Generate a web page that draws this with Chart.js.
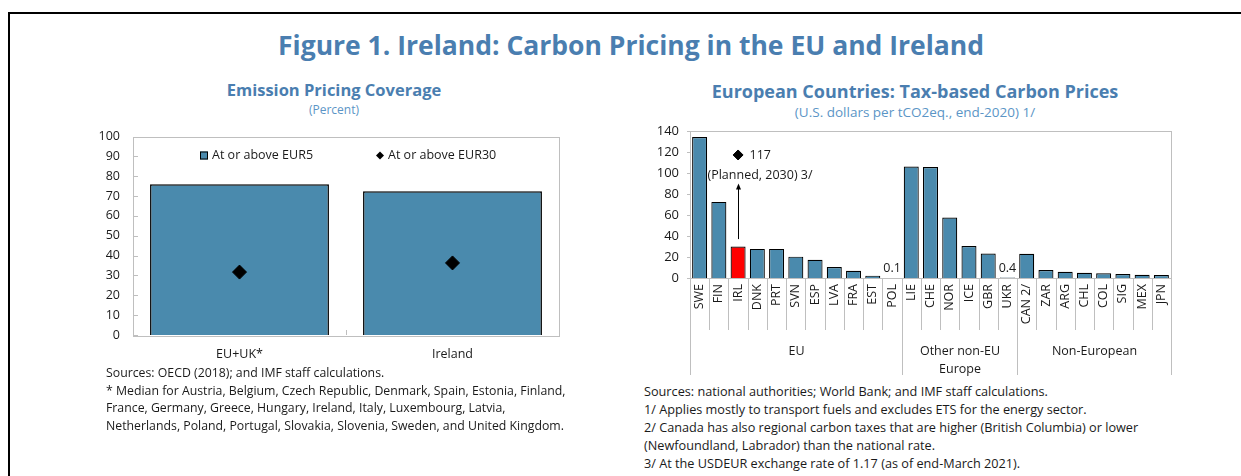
<!DOCTYPE html>
<html>
<head>
<meta charset="utf-8">
<script src="https://cdn.jsdelivr.net/npm/chart.js@4.4.1/dist/chart.umd.min.js"></script>
<style>
  body { margin: 0; width: 1241px; height: 476px; overflow: hidden; background: #fff; position: relative;
         font-family: "Open Sans", sans-serif; color: #1a1a1a; }
  .frame { position: absolute; left: 8px; top: 12px; width: 1300px; height: 520px; border: 2px solid #000; box-sizing: border-box; }
  .t { position: absolute; white-space: nowrap; line-height: 1; }
  .c { transform: translate(-50%, -50%); }
  .m { transform: translateY(-50%); }
  .h1 { font-size: 26.5px; font-weight: 700; color: #4a7eb0; }
  .h2 { font-size: 16.5px; font-weight: 700; color: #4a7eb0; }
  .h3 { font-size: 12px; color: #5b95c6; }
  .note { font-size: 12.3px; color: #1a1a1a; }
  .note.r { font-size: 12.7px; }
  canvas { position: absolute; }
</style>
</head>
<body>
<div class="frame"></div>

<div class="t c h1" style="left:631px; top:45px;">Figure 1. Ireland: Carbon Pricing in the EU and Ireland</div>

<div class="t c h2" style="left:334px; top:90px;">Emission Pricing Coverage</div>
<div class="t c h3" style="left:334px; top:110px;">(Percent)</div>

<div class="t c h2" style="left:915px; top:91px; font-size:18px;">European Countries: Tax-based Carbon Prices</div>
<div class="t c h3" style="left:915px; top:113px; font-size:13.5px;">(U.S. dollars per tCO2eq., end-2020) 1/</div>

<div style="position:absolute; left:80px; top:116px; width:520px; height:260px;"><canvas id="coverage"></canvas></div>
<div style="position:absolute; left:640px; top:112px; width:545px; height:268px;"><canvas id="prices"></canvas></div>

<div class="t m note" style="left:106px; top:373px;">Sources: OECD (2018); and IMF staff calculations.</div>
<div class="t m note" style="left:106px; top:391px;">* Median for Austria, Belgium, Czech Republic, Denmark, Spain, Estonia, Finland,</div>
<div class="t m note" style="left:106px; top:408px;">France, Germany, Greece, Hungary, Ireland, Italy, Luxembourg, Latvia,</div>
<div class="t m note" style="left:106px; top:426px;">Netherlands, Poland, Portugal, Slovakia, Slovenia, Sweden, and United Kingdom.</div>

<div class="t m note r" style="left:644px; top:391px;">Sources: national authorities; World Bank; and IMF staff calculations.</div>
<div class="t m note r" style="left:644px; top:409px;">1/ Applies mostly to transport fuels and excludes ETS for the energy sector.</div>
<div class="t m note r" style="left:644px; top:427px;">2/ Canada has also regional carbon taxes that are higher (British Columbia) or lower</div>
<div class="t m note r" style="left:644px; top:445px;">(Newfoundland, Labrador) than the national rate.</div>
<div class="t m note r" style="left:644px; top:463px;">3/ At the USDEUR exchange rate of 1.17 (as of end-March 2021).</div>

<script>
// left panel data
const coverageCats = ['EU+UK*', 'Ireland'];
const eur5 = [75.9, 72.4];
const eur30 = [31.7, 36.3];

// right panel data
const countries = ['SWE', 'FIN', 'IRL', 'DNK', 'PRT', 'SVN', 'ESP', 'LVA', 'FRA', 'EST', 'POL',
                   'LIE', 'CHE', 'NOR', 'ICE', 'GBR', 'UKR',
                   'CAN 2/', 'ZAR', 'ARG', 'CHL', 'COL', 'SIG', 'MEX', 'JPN'];
const carbonPrice = [134, 72.4, 30, 27.7, 27.7, 20.3, 17.3, 10.4, 6.9, 2.2, 0.1,
                     106, 105.5, 57.6, 30.5, 23.3, 0.4,
                     23, 7.5, 5.9, 5, 4.4, 3.7, 3.1, 2.8];
const groupNames = [['EU'], ['Other non-EU', 'Europe'], ['Non-European']];
const groupSizes = [11, 6, 8];
const plannedCountry = 'IRL';
const plannedValue = 117;
const plannedNote = '(Planned, 2030) 3/';

const BLUE = '#4a8aad';
const RED = '#ff0000';
const GREY = '#bfbfbf';
const FONT = '"Open Sans", sans-serif';

Chart.defaults.font.family = FONT;
Chart.defaults.color = '#1a1a1a';

function line(ctx, x1, y1, x2, y2) {
  ctx.beginPath(); ctx.moveTo(x1, y1); ctx.lineTo(x2, y2); ctx.stroke();
}

// border, inner ticks and legend for the left panel
const coverageDeco = {
  id: 'coverageDeco',
  afterDraw(chart) {
    const { ctx, chartArea: a, scales: { x, y } } = chart;
    ctx.save();
    ctx.strokeStyle = GREY;
    ctx.lineWidth = 1;
    ctx.strokeRect(Math.round(a.left) + 0.5, Math.round(a.top) + 0.5, Math.round(a.right - a.left), Math.round(a.bottom - a.top));
    y.ticks.forEach((t, i) => {
      const py = Math.round(y.getPixelForTick(i)) + 0.5;
      line(ctx, a.left, py, a.left + 5, py);
    });
    const mid = Math.round((x.getPixelForValue(0) + x.getPixelForValue(1)) / 2) + 0.5;
    line(ctx, mid, a.bottom, mid, a.bottom - 5);

    // legend
    const ds = chart.data.datasets;
    const ly = a.top + 19;
    ctx.font = '12.5px ' + FONT;
    ctx.textBaseline = 'middle';
    ctx.fillStyle = ds[0].backgroundColor;
    ctx.fillRect(a.left + 67, ly - 4, 8, 8);
    ctx.strokeStyle = '#000';
    ctx.strokeRect(a.left + 67.5, ly - 3.5, 7, 7);
    ctx.fillStyle = '#1a1a1a';
    ctx.fillText(ds[0].label, a.left + 79, ly);

    const dx = a.left + 247;
    ctx.fillStyle = '#000';
    ctx.beginPath();
    ctx.moveTo(dx, ly - 4); ctx.lineTo(dx + 4, ly); ctx.lineTo(dx, ly + 4); ctx.lineTo(dx - 4, ly);
    ctx.closePath(); ctx.fill();
    ctx.fillStyle = '#1a1a1a';
    ctx.fillText(ds[1].label, a.left + 255, ly);
    ctx.restore();
  }
};

new Chart(document.getElementById('coverage'), {
  data: {
    labels: coverageCats,
    datasets: [
      { type: 'bar', label: 'At or above EUR5', data: eur5, backgroundColor: BLUE,
        borderColor: '#000', borderWidth: 1.5, barPercentage: 0.84, categoryPercentage: 1, order: 2 },
      { type: 'line', label: 'At or above EUR30', data: eur30, showLine: false,
        pointStyle: 'rectRot', pointRadius: 7, pointBackgroundColor: '#000', pointBorderColor: '#000', order: 1 }
    ]
  },
  options: {
    responsive: true, maintainAspectRatio: false, animation: false,
    layout: { padding: { top: 16, right: 41, bottom: 11, left: 0 } },
    plugins: { legend: { display: false }, tooltip: { enabled: false } },
    scales: {
      x: {
        grid: { display: false, drawTicks: false }, border: { display: false },
        ticks: { font: { size: 12.5 }, padding: 12, color: '#1a1a1a' },
        afterFit(s) { s.height = 30; }
      },
      y: {
        min: 0, max: 100,
        grid: { display: false, drawTicks: false }, border: { display: false },
        ticks: { stepSize: 10, font: { size: 12.5 }, padding: 13, color: '#1a1a1a' },
        afterFit(s) { s.width = 53; }
      }
    }
  },
  plugins: [coverageDeco]
});

// border, category separators, group labels and notes for the right panel
const pricesDeco = {
  id: 'pricesDeco',
  afterDraw(chart) {
    const { ctx, chartArea: a, scales: { x, y } } = chart;
    const data = chart.data.datasets[0].data;
    ctx.save();
    ctx.strokeStyle = GREY;
    ctx.lineWidth = 1;
    ctx.strokeRect(Math.round(a.left) + 0.5, Math.round(a.top) + 0.5, Math.round(a.right - a.left), Math.round(a.bottom - a.top));
    y.ticks.forEach((t, i) => {
      const py = Math.round(y.getPixelForTick(i)) + 0.5;
      line(ctx, a.left - 3, py, a.left, py);
    });

    const step = x.getPixelForValue(1) - x.getPixelForValue(0);
    const edge = i => Math.round(x.getPixelForValue(i) - step / 2) + 0.5;
    for (let i = 0; i <= countries.length; i++) {
      line(ctx, edge(i), a.bottom, edge(i), a.bottom + 52);
    }
    let start = 0;
    ctx.font = '12.5px ' + FONT;
    ctx.textAlign = 'center';
    ctx.textBaseline = 'middle';
    groupSizes.forEach((n, g) => {
      const end = start + n;
      ctx.strokeStyle = GREY;
      line(ctx, edge(start), a.bottom, edge(start), a.bottom + 97);
      line(ctx, edge(end), a.bottom, edge(end), a.bottom + 97);
      const cx = (edge(start) + edge(end)) / 2;
      ctx.fillStyle = '#1a1a1a';
      groupNames[g].forEach((txt, k) => ctx.fillText(txt, cx, a.bottom + 73 + k * 18));
      start = end;
    });

    // values of the bars too small to see
    ctx.textBaseline = 'bottom';
    data.forEach((v, i) => {
      if (v < 1) ctx.fillText(String(v), x.getPixelForValue(i), y.getPixelForValue(v) - 3);
    });

    // planned 2030 price for Ireland
    const pi = countries.indexOf(plannedCountry);
    const px = Math.round(x.getPixelForValue(pi)) + 0.5;
    const py = y.getPixelForValue(plannedValue);
    ctx.textAlign = 'left';
    ctx.textBaseline = 'middle';
    ctx.fillText(String(plannedValue), px + 11, py);
    ctx.fillText(plannedNote, px - 31, py + 20);
    ctx.strokeStyle = '#000';
    const y0 = y.getPixelForValue(37), y1 = y.getPixelForValue(89);
    line(ctx, px, y0, px, y1 + 3);
    ctx.fillStyle = '#000';
    ctx.beginPath();
    ctx.moveTo(px, y1 - 1); ctx.lineTo(px + 2.5, y1 + 5); ctx.lineTo(px - 2.5, y1 + 5);
    ctx.closePath(); ctx.fill();
    ctx.restore();
  }
};

new Chart(document.getElementById('prices'), {
  data: {
    labels: countries,
    datasets: [
      { type: 'bar', label: 'Carbon price', data: carbonPrice,
        backgroundColor: countries.map(c => c === plannedCountry ? RED : BLUE),
        borderColor: '#000', borderWidth: 1.2, barPercentage: 0.78, categoryPercentage: 1, order: 2 },
      { type: 'line', label: 'Planned 2030', data: countries.map(c => c === plannedCountry ? plannedValue : null),
        showLine: false, pointStyle: 'rectRot', pointRadius: 5, pointBackgroundColor: '#000', pointBorderColor: '#000', order: 1 }
    ]
  },
  options: {
    responsive: true, maintainAspectRatio: false, animation: false,
    layout: { padding: { top: 17, right: 14, bottom: 6, left: 0 } },
    plugins: { legend: { display: false }, tooltip: { enabled: false } },
    scales: {
      x: {
        grid: { display: false, drawTicks: false }, border: { display: false },
        ticks: { font: { size: 12.5 }, padding: 6, minRotation: 90, maxRotation: 90, autoSkip: false, color: '#1a1a1a' },
        afterFit(s) { s.height = 96; }
      },
      y: {
        min: 0, max: 140,
        grid: { display: false, drawTicks: false }, border: { display: false },
        ticks: { stepSize: 20, font: { size: 13 }, padding: 11, color: '#1a1a1a' },
        afterFit(s) { s.width = 50; }
      }
    }
  },
  plugins: [pricesDeco]
});
</script>
</body>
</html>
